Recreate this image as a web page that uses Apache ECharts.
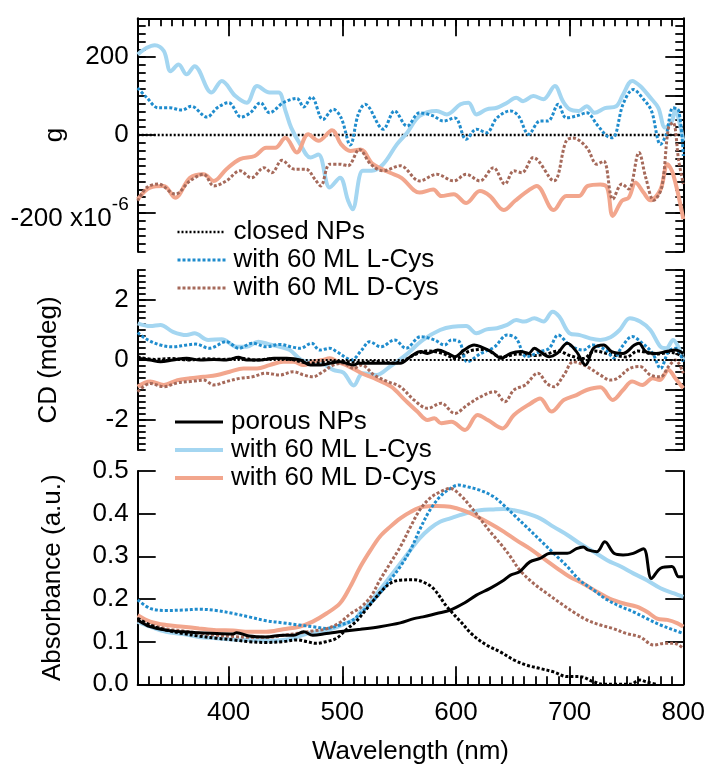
<!DOCTYPE html>
<html>
<head>
<meta charset="utf-8">
<script src="https://cdn.jsdelivr.net/npm/echarts@6/dist/echarts.min.js"></script>
<style>html,body{margin:0;padding:0;background:#fff}#c{width:707px;height:769px}</style>
</head>
<body>
<div id="c"></div>
<script>
// ---------- tick labels ----------
const xTicksMajor = [400, 500, 600, 700, 800];
const gTicks = [-200, 0, 200];
const cdTicks = [-2, 0, 2];

// ---------- legend texts ----------
const legendText = {
  closedNP: 'closed NPs', closedL: 'with 60 ML L-Cys', closedD: 'with 60 ML D-Cys',
  porousNP: 'porous NPs', porousL: 'with 60 ML L-Cys', porousD: 'with 60 ML D-Cys'
};

// ---------- top panel: g (x10^-6) ----------
const gClosedNP = [[320,0],[800,0]];
const gLPorous = [[320,207],[328,224],[335,231],[343,216],[349,164],[356,181],[363,156],[370,177],[385,109],[394,139],[406,100],[416,83],[425,126],[436,109],[444,109],[450,62],[455,19],[463,-24],[472,-58],[479,-50],[489,-135],[498,-110],[505,-168],[509,-191],[518,-92],[526,-92],[536,-75],[548,-24],[557,6],[568,49],[583,62],[592,53],[604,79],[611,83],[618,53],[627,66],[636,70],[645,83],[653,96],[659,87],[668,100],[677,92],[687,126],[694,87],[700,66],[708,62],[715,74],[722,57],[731,69],[741,74],[747,104],[755,139],[762,126],[771,96],[778,70],[784,19],[790,36],[793,66],[797,27],[800,-15]];
const gLClosed = [[320,121],[328,96],[338,70],[348,70],[359,64],[367,74],[381,46],[390,70],[400,83],[411,46],[419,57],[428,83],[436,57],[448,83],[460,94],[466,72],[473,98],[483,40],[492,66],[499,44],[507,-26],[514,53],[520,79],[536,15],[546,62],[557,23],[568,57],[580,49],[589,36],[599,44],[609,-11],[618,15],[627,6],[636,44],[648,62],[655,49],[664,2],[674,36],[681,36],[690,79],[697,44],[706,49],[715,57],[724,27],[733,-3],[738,-7],[747,79],[756,117],[765,92],[772,62],[780,-24],[785,2],[791,70],[796,62],[800,-54]];
const gDPorous = [[320,-165],[331,-135],[343,-131],[353,-161],[366,-110],[378,-101],[387,-118],[398,-88],[410,-62],[423,-54],[433,-33],[441,-33],[450,-7],[460,-45],[470,2],[479,-15],[491,12],[499,-24],[507,-41],[516,-37],[527,-75],[542,-97],[552,-110],[568,-148],[580,-140],[587,-157],[598,-152],[609,-175],[621,-144],[630,-157],[642,-193],[652,-169],[665,-140],[671,-131],[686,-193],[697,-157],[708,-157],[716,-131],[727,-127],[733,-135],[738,-208],[746,-169],[752,-161],[758,-122],[765,-148],[771,-168],[780,-140],[786,-75],[791,-100],[800,-216]];
const gDClosed = [[320,-169],[328,-135],[338,-126],[353,-152],[366,-118],[378,-101],[387,-131],[398,-118],[410,-92],[420,-110],[431,-84],[438,-97],[447,-65],[458,-88],[468,-88],[476,-114],[481,-131],[489,-75],[498,-75],[505,-79],[515,-37],[525,-75],[536,-92],[551,-79],[568,-118],[583,-101],[598,-118],[609,-101],[621,-118],[633,-84],[643,-126],[651,-92],[658,-97],[668,-58],[686,-118],[697,-15],[703,-8],[715,-32],[724,-75],[730,-67],[738,-165],[746,-126],[752,-139],[761,-45],[767,-110],[774,-168],[781,-135],[787,19],[791,32],[796,-67],[800,-126]];

// ---------- middle panel: CD (mdeg) ----------
const cdClosedNP = [[320,0.1],[335,0.02],[350,0.05],[365,0.0],[380,0.04],[395,0.02],[410,0.06],[425,0.0],[440,0.05],[455,0.02],[470,-0.1],[485,-0.08],[500,-0.05],[515,-0.08],[530,-0.05],[545,-0.1],[555,0.0],[565,0.2],[575,0.3],[588,0.22],[600,0.05],[612,0.3],[625,0.35],[640,0.1],[655,0.2],[668,0.15],[680,0.2],[690,0.3],[700,0.15],[712,0.05],[722,0.3],[735,0.2],[750,0.1],[760,0.3],[775,0.2],[790,0.25],[800,0.1]];
const cdPorousNP = [[320,0.06],[331,0],[340,-0.06],[351,0],[363,0.06],[375,0],[387,0.02],[398,0],[409,0.09],[416,0],[428,0],[440,0.06],[451,0.06],[463,0],[472,-0.17],[481,-0.17],[489,-0.11],[498,-0.06],[510,-0.17],[514,-0.11],[528,-0.11],[543,-0.11],[551,-0.11],[560,0.11],[569,0.28],[575,0.22],[584,0.33],[593,0.22],[599,0.11],[607,0.33],[616,0.5],[622,0.44],[631,0.28],[640,0.06],[648,0.22],[657,0.28],[664,0.22],[669,0.39],[674,0.28],[682,0.11],[689,0.22],[698,0.56],[706,0.28],[714,-0.17],[721,0.39],[730,0.5],[737,0.28],[747,0.22],[757,0.5],[761,0.56],[767,0.28],[776,0.22],[785,0.28],[793,0.33],[800,0.22]];
const cdLPorous = [[320,1.22],[331,1.13],[340,1.17],[351,0.94],[363,0.83],[370,0.89],[382,0.67],[394,0.69],[407,0.44],[416,0.44],[426,0.61],[436,0.52],[445,0.44],[454,0.33],[464,0],[474,-0.06],[483,-0.13],[492,-0.33],[501,-0.42],[510,-0.85],[518,-0.44],[530,-0.5],[542,-0.22],[556,0.17],[571,0.67],[586,1.0],[597,1.11],[609,1.13],[618,0.89],[627,1.02],[636,1.06],[645,1.17],[653,1.33],[660,1.28],[669,1.39],[677,1.28],[685,1.61],[691,1.44],[700,0.89],[709,0.83],[718,0.72],[727,0.67],[736,0.76],[744,1.0],[753,1.39],[762,1.28],[771,1.0],[780,0.44],[785,0.39],[791,0.67],[797,0.33],[800,0.0]];
const cdLClosed = [[320,0.91],[328,0.69],[340,0.5],[351,0.44],[363,0.5],[371,0.53],[383,0.39],[398,0.61],[409,0.39],[421,0.56],[433,0.44],[445,0.52],[455,0.44],[463,0.39],[473,0.56],[480,0.33],[489,0.39],[495,0.28],[504,0.06],[508,0],[517,0.33],[524,0.61],[534,0.44],[546,0.67],[556,0.39],[569,0.78],[581,0.67],[590,0.5],[596,0.67],[603,0.61],[610,-0.06],[622,0.22],[634,0.44],[645,0.83],[653,0.72],[662,0.11],[674,0.28],[682,0.39],[690,0.83],[700,0.5],[712,0.33],[720,0.5],[732,0.33],[739,0.06],[746,0.44],[755,0.78],[764,0.56],[773,0.22],[780,-0.28],[787,0.28],[793,0.39],[800,-0.06]];
const cdDPorous = [[320,-0.89],[331,-0.72],[343,-0.83],[355,-0.67],[366,-0.61],[378,-0.56],[390,-0.5],[401,-0.39],[413,-0.28],[425,-0.28],[436,-0.17],[448,-0.06],[457,-0.06],[466,-0.17],[474,-0.06],[483,0],[489,0.06],[496,-0.06],[506,-0.22],[517,-0.44],[528,-0.61],[543,-0.89],[555,-1.33],[566,-1.72],[575,-2.0],[581,-1.94],[587,-2.11],[596,-2.06],[608,-2.33],[619,-1.83],[628,-2.0],[641,-2.28],[651,-1.83],[666,-1.44],[674,-1.28],[684,-1.72],[695,-1.33],[706,-1.17],[715,-1.0],[727,-0.91],[738,-1.33],[747,-1.0],[755,-0.72],[764,-0.83],[773,-0.61],[779,-0.67],[787,-0.33],[793,-0.61],[800,-0.94]];
const cdDClosed = [[320,-1.06],[331,-0.78],[343,-0.89],[355,-0.76],[366,-0.72],[378,-0.67],[387,-0.83],[398,-0.72],[410,-0.61],[421,-0.56],[433,-0.44],[445,-0.5],[457,-0.39],[466,-0.5],[474,-0.56],[483,-0.39],[492,-0.17],[501,-0.11],[510,-0.28],[517,-0.17],[528,-0.5],[540,-0.72],[551,-0.89],[563,-1.33],[575,-1.61],[587,-1.44],[599,-1.78],[610,-1.5],[622,-1.22],[634,-1.06],[643,-1.39],[651,-1.0],[661,-0.83],[672,-0.44],[680,-0.78],[686,-0.89],[695,-0.5],[703,-0.06],[709,-0.11],[718,-0.28],[727,-0.5],[736,-0.67],[742,-0.61],[753,-0.28],[762,-0.22],[771,-0.5],[780,-0.56],[787,-0.22],[793,0.0],[800,-0.44]];

// ---------- bottom panel: absorbance ----------
const absClosedNP = [[320,0.155],[331,0.139],[345,0.127],[360,0.119],[374,0.113],[389,0.108],[404,0.104],[418,0.100],[433,0.098],[448,0.100],[460,0.104],[469,0.100],[477,0.096],[486,0.100],[495,0.108],[503,0.127],[512,0.147],[520,0.172],[527,0.195],[535,0.220],[543,0.238],[551,0.244],[563,0.245],[571,0.240],[580,0.225],[592,0.182],[604,0.147],[615,0.115],[627,0.092],[639,0.076],[651,0.057],[662,0.045],[674,0.037],[686,0.029],[698,0.018],[709,0.018],[721,0.006],[730,0.0],[741,0.0],[753,0.0],[762,0.010],[767,0.006],[776,0.0]];
const absPorousNP = [[320,0.151],[331,0.135],[345,0.127],[360,0.123],[374,0.121],[389,0.119],[404,0.118],[407,0.121],[418,0.113],[433,0.111],[448,0.115],[457,0.115],[466,0.123],[474,0.115],[486,0.119],[497,0.123],[516,0.129],[533,0.135],[551,0.144],[563,0.154],[571,0.158],[583,0.166],[595,0.174],[607,0.190],[618,0.209],[630,0.225],[642,0.244],[648,0.256],[656,0.264],[665,0.287],[674,0.295],[683,0.307],[689,0.307],[698,0.307],[706,0.318],[712,0.322],[716,0.315],[724,0.311],[731,0.334],[739,0.307],[747,0.303],[756,0.307],[765,0.318],[772,0.248],[780,0.272],[790,0.276],[796,0.252],[800,0.252]];
const absLPorous = [[320,0.147],[331,0.135],[345,0.123],[360,0.118],[374,0.111],[389,0.108],[404,0.105],[418,0.104],[433,0.102],[448,0.104],[457,0.108],[469,0.119],[480,0.123],[492,0.131],[503,0.143],[512,0.154],[516,0.170],[525,0.194],[533,0.221],[542,0.252],[551,0.283],[560,0.315],[568,0.342],[577,0.365],[586,0.381],[595,0.389],[604,0.397],[613,0.404],[621,0.408],[633,0.410],[642,0.411],[651,0.408],[662,0.401],[674,0.389],[686,0.369],[698,0.350],[709,0.330],[721,0.311],[733,0.291],[745,0.276],[756,0.260],[768,0.244],[780,0.225],[792,0.213],[800,0.205]];
const absDPorous = [[320,0.162],[331,0.147],[345,0.139],[360,0.135],[374,0.131],[389,0.127],[404,0.126],[418,0.123],[433,0.123],[448,0.129],[462,0.135],[474,0.147],[486,0.166],[498,0.190],[507,0.229],[516,0.276],[525,0.315],[533,0.346],[542,0.369],[551,0.389],[560,0.404],[571,0.416],[583,0.418],[595,0.416],[607,0.407],[618,0.394],[630,0.377],[642,0.358],[653,0.338],[665,0.318],[677,0.295],[689,0.272],[700,0.252],[712,0.236],[724,0.217],[735,0.201],[747,0.190],[759,0.182],[768,0.170],[777,0.154],[786,0.151],[795,0.143],[800,0.135]];
const absLClosed = [[320,0.198],[331,0.178],[345,0.173],[360,0.174],[374,0.176],[389,0.173],[404,0.166],[418,0.158],[433,0.149],[448,0.144],[462,0.139],[474,0.135],[486,0.131],[498,0.139],[507,0.147],[516,0.166],[525,0.190],[533,0.213],[542,0.244],[551,0.276],[560,0.315],[568,0.362],[577,0.408],[586,0.440],[595,0.459],[602,0.467],[610,0.463],[621,0.455],[633,0.440],[642,0.420],[651,0.397],[662,0.369],[674,0.338],[686,0.307],[698,0.276],[709,0.244],[721,0.221],[733,0.198],[745,0.182],[756,0.170],[768,0.154],[780,0.139],[792,0.127],[800,0.119]];
const absDClosed = [[320,0.150],[331,0.140],[345,0.130],[360,0.125],[374,0.120],[389,0.115],[404,0.112],[418,0.110],[433,0.110],[448,0.115],[462,0.120],[474,0.125],[486,0.130],[498,0.145],[507,0.165],[516,0.180],[525,0.205],[533,0.244],[542,0.283],[551,0.322],[560,0.369],[568,0.408],[577,0.436],[586,0.451],[595,0.459],[604,0.443],[613,0.416],[621,0.389],[630,0.358],[639,0.330],[648,0.299],[656,0.268],[668,0.237],[680,0.213],[692,0.190],[703,0.170],[715,0.151],[727,0.139],[738,0.131],[750,0.119],[762,0.111],[774,0.092],[783,0.096],[792,0.096],[800,0.084]];

// ---------- styling ----------
const FONT = "'Liberation Sans', Arial, Helvetica, sans-serif";
const FS = 26;
const C = { black:'#000000', lblue:'#a4d6f1', blue:'#1f8ccd', salmon:'#f2a68d', brown:'#a5695a' };
const DOT = [3, 2];
const gridL = 137.7, gridR = 23.7;

function xAx(gi, o) {
  return Object.assign({
    type:'value', gridIndex:gi, min:320, max:800,
    axisLine:{show:false, onZero:false, lineStyle:{color:'#000', width:2}},
    axisTick:{show:false}, axisLabel:{show:false}, splitLine:{show:false}
  }, o);
}
function yAx(gi, min, max, o) {
  return Object.assign({
    type:'value', gridIndex:gi, min:min, max:max,
    axisLine:{show:false, onZero:false, lineStyle:{color:'#000', width:2}},
    axisTick:{show:false}, axisLabel:{show:false}, splitLine:{show:false}
  }, o);
}
const tickMaj = {show:true, inside:true, length:18, lineStyle:{color:'#000', width:1.8}};
const tickMin = {show:true, inside:true, length:8, lineStyle:{color:'#000', width:1.8}};
const lbl = {show:true, color:'#000', fontSize:FS, fontFamily:FONT};
const nameStyle = {color:'#000', fontSize:FS, fontFamily:FONT};

const xAxis = [
  xAx(0, {position:'top', axisLine:{show:true, onZero:false, lineStyle:{color:'#000', width:2}},
          axisTick:Object.assign({customValues:xTicksMajor.slice(0,4)}, tickMaj)}),
  xAx(0, {position:'top', interval:10, axisTick:tickMin}),
  xAx(1, {show:false}),
  xAx(2, {position:'bottom', axisLine:{show:true, onZero:false, lineStyle:{color:'#000', width:2}},
          axisTick:Object.assign({customValues:xTicksMajor.slice(0,4)}, tickMaj),
          axisLabel:Object.assign({customValues:xTicksMajor, margin:16}, lbl),
          name:'Wavelength (nm)', nameLocation:'middle', nameGap:55, nameMoveOverlap:false,
          nameTextStyle:nameStyle}),
  xAx(2, {position:'bottom', interval:10, axisTick:tickMin})
];

const yAxis = [
  yAx(0, -300, 300, {position:'left', axisLine:{show:true, onZero:false, lineStyle:{color:'#000', width:2}},
    axisTick:Object.assign({customValues:gTicks}, tickMaj),
    axisLabel:Object.assign({customValues:gTicks, margin:9,
      formatter:function(v){ return v === -200 ? '{m|-200 x10}{s|-6}' : String(v); },
      rich:{ m:{fontSize:FS, fontFamily:FONT, color:'#000', padding:[13,0,0,0]},
             s:{fontSize:19, fontFamily:FONT, color:'#000', padding:[0,0,16,0]} }}, lbl),
    name:'g', nameLocation:'middle', nameGap:70, nameMoveOverlap:false, nameTextStyle:nameStyle}),
  yAx(0, -300, 300, {position:'left', interval:20, axisTick:tickMin}),
  yAx(0, -300, 300, {position:'right', interval:100, axisLine:{show:true, onZero:false, lineStyle:{color:'#000', width:2}}, axisTick:tickMaj}),
  yAx(0, -300, 300, {position:'right', interval:20, axisTick:tickMin}),
  yAx(1, -3, 3, {position:'left', axisLine:{show:true, onZero:false, lineStyle:{color:'#000', width:2}},
    axisTick:Object.assign({customValues:cdTicks}, tickMaj),
    axisLabel:Object.assign({customValues:cdTicks, margin:9}, lbl),
    name:'CD (mdeg)', nameLocation:'middle', nameGap:76, nameMoveOverlap:false, nameTextStyle:nameStyle}),
  yAx(1, -3, 3, {position:'left', interval:0.2, axisTick:tickMin}),
  yAx(1, -3, 3, {position:'right', interval:1, axisLine:{show:true, onZero:false, lineStyle:{color:'#000', width:2}}, axisTick:tickMaj}),
  yAx(1, -3, 3, {position:'right', interval:0.2, axisTick:tickMin}),
  yAx(2, 0, 0.5, {position:'left', interval:0.1, axisLine:{show:true, onZero:false, lineStyle:{color:'#000', width:2}},
    axisTick:tickMaj,
    axisLabel:Object.assign({margin:9, formatter:function(v){ return v.toFixed(1); }}, lbl),
    name:'Absorbance (a.u.)', nameLocation:'middle', nameGap:72, nameMoveOverlap:false, nameTextStyle:nameStyle}),
  yAx(2, 0, 0.5, {position:'right', interval:0.1, axisLine:{show:true, onZero:false, lineStyle:{color:'#000', width:2}}, axisTick:tickMaj})
];

function ser(name, data, xi, yi, color, width, dash, z, extra) {
  return Object.assign({
    type:'line', name:name, data:data, xAxisIndex:xi, yAxisIndex:yi,
    showSymbol:false, symbol:'none', smooth:0.35, animation:false, z:z,
    lineStyle:{color:color, width:width, type:dash || 'solid', cap:'butt'},
    itemStyle:{color:color}, emphasis:{disabled:true}
  }, extra || {});
}

const series = [
  ser('closedNP', gClosedNP, 0, 0, C.black, 2.5, [2,2], 2, {smooth:false}),
  ser('porousL', gLPorous, 0, 0, C.lblue, 4, null, 3),
  ser('porousD', gDPorous, 0, 0, C.salmon, 4, null, 3),
  ser('closedL', gLClosed, 0, 0, C.blue, 3, DOT, 4),
  ser('closedD', gDClosed, 0, 0, C.brown, 3, DOT, 4),
  ser('closedNP', cdClosedNP, 2, 4, C.black, 3, DOT, 4, {
    markLine:{silent:true, symbol:'none', animation:false, label:{show:false},
      lineStyle:{color:'#000', type:[2,2], width:2}, data:[{yAxis:0}]}}),
  ser('porousL', cdLPorous, 2, 4, C.lblue, 4, null, 3),
  ser('porousD', cdDPorous, 2, 4, C.salmon, 4, null, 3),
  ser('closedL', cdLClosed, 2, 4, C.blue, 3, DOT, 4),
  ser('closedD', cdDClosed, 2, 4, C.brown, 3, DOT, 4),
  ser('porousNP', cdPorousNP, 2, 4, C.black, 3, null, 5),
  ser('porousL', absLPorous, 3, 8, C.lblue, 4, null, 3),
  ser('porousD', absDPorous, 3, 8, C.salmon, 4, null, 3),
  ser('closedL', absLClosed, 3, 8, C.blue, 3, DOT, 4),
  ser('closedD', absDClosed, 3, 8, C.brown, 3, DOT, 4),
  ser('closedNP', absClosedNP, 3, 8, C.black, 3, DOT, 5),
  ser('porousNP', absPorousNP, 3, 8, C.black, 3, null, 5)
];

const legendCommon = {
  orient:'vertical', itemWidth:48, itemHeight:14, itemGap:2, selectedMode:false,
  textStyle:{color:'#000', fontSize:FS, fontFamily:FONT, padding:[0,0,0,3]},
  itemStyle:{opacity:0},
  lineStyle:{width:'inherit', type:'inherit'},
  formatter:function(n){ return legendText[n]; }
};

const option = {
  animation:false,
  backgroundColor:'#fff',
  textStyle:{fontFamily:FONT},
  grid:[
    {left:gridL, right:gridR, top:18.3, height:233.4, containLabel:false, outerBoundsMode:'none'},
    {left:gridL, right:gridR, top:270, height:180, containLabel:false, outerBoundsMode:'none'},
    {left:gridL, right:gridR, top:471, height:213.3, containLabel:false, outerBoundsMode:'none'}
  ],
  legend:[
    Object.assign({data:['closedNP','closedL','closedD'], left:171, top:214}, legendCommon),
    Object.assign({data:['porousNP','porousL','porousD'], left:168, top:404}, legendCommon)
  ],
  xAxis:xAxis,
  yAxis:yAxis,
  series:series
};

const chart = echarts.init(document.getElementById('c'), null, {renderer:'canvas'});
chart.setOption(option);
</script>
</body>
</html>
